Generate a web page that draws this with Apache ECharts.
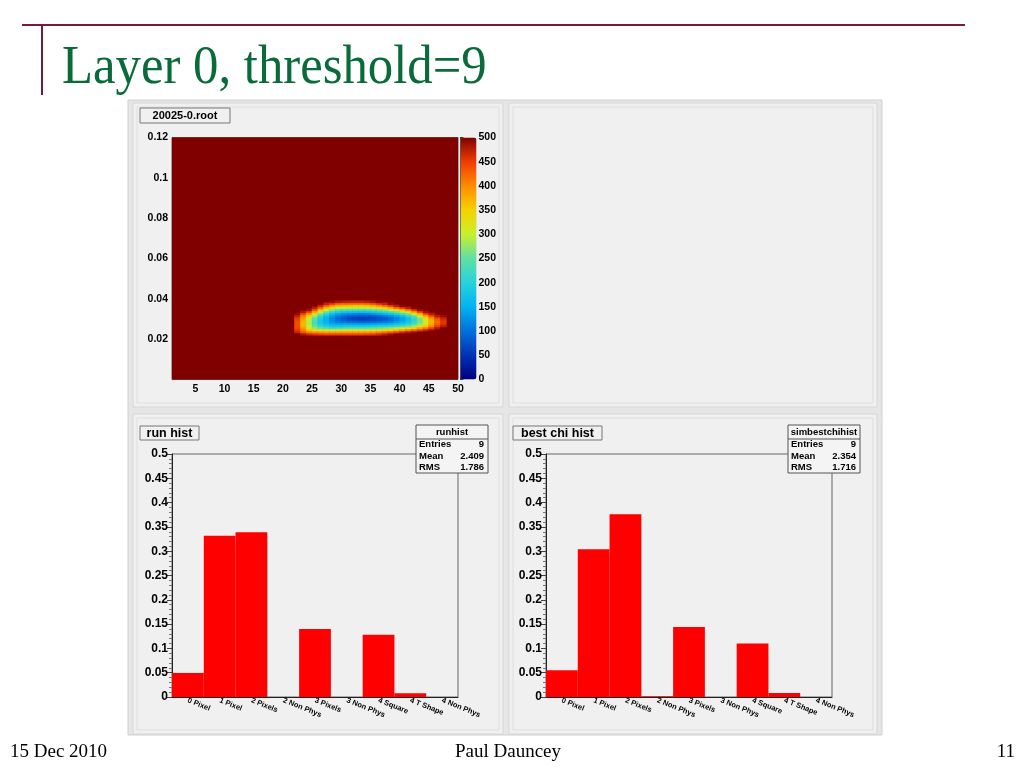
<!DOCTYPE html>
<html><head><meta charset="utf-8">
<script src="https://cdn.jsdelivr.net/npm/echarts@6/dist/echarts.min.js"></script>
<style>html,body{margin:0;padding:0;background:#fff}#c{width:1024px;height:768px}</style>
</head><body><div id="c"></div>
<script>
// ---------- data ----------
const mapXMin = 1, mapXMax = 50, mapYMin = 0, mapYMax = 0.12;
const mapSaturated = 500;
const mapXTickLabels = ['5','10','15','20','25','30','35','40','45','50'];
const mapYTickLabels = ['0.02','0.04','0.06','0.08','0.1','0.12'];
const zTickLabels = ['0','50','100','150','200','250','300','350','400','450','500'];
// blob region: columns x = 22..47 (bin width 1), rows y = 0.022..0.038 (bin height 0.001), bottom -> top
const blobX0 = 22, blobY0 = 0.022, binW = 1, binH = 0.001;
const blobColumns = [
  [500,470,455,445,440,440,440,445,455,470,490,500,500,500,500,500,500],
  [480,435,410,390,375,370,370,375,390,410,440,480,500,500,500,500,500],
  [465,410,360,320,300,290,290,295,315,345,390,440,485,500,500,500,500],
  [455,400,330,280,250,235,230,235,250,280,320,375,430,475,500,500,500],
  [450,395,315,255,215,190,180,180,190,215,255,305,360,420,465,495,500],
  [445,390,305,240,195,170,155,150,155,170,200,250,305,365,420,470,500],
  [445,390,300,230,180,150,130,120,120,135,165,210,265,325,385,445,490],
  [445,390,305,235,180,145,118,100,98,110,140,185,240,300,360,420,480],
  [445,390,310,240,185,145,110,88,82,92,125,172,232,295,355,415,475],
  [445,390,315,245,185,145,105,78,70,82,118,168,228,292,352,412,472],
  [445,390,315,245,185,142,102,72,64,76,114,165,225,290,350,410,470],
  [445,390,315,245,185,142,100,70,60,74,112,165,225,290,350,410,470],
  [448,392,318,248,188,144,102,72,62,76,116,168,230,295,355,415,475],
  [452,396,322,252,192,146,104,75,68,84,124,176,240,305,365,428,485],
  [462,406,330,260,198,150,108,80,75,92,136,190,254,320,385,450,495],
  [475,418,340,268,204,155,114,88,85,104,150,206,272,342,410,470,500],
  [488,432,352,278,212,162,124,98,96,118,168,228,296,370,440,490,500],
  [500,450,370,292,226,176,140,116,116,140,192,256,330,410,475,500,500],
  [500,465,388,306,240,190,158,138,140,166,218,286,364,445,495,500,500],
  [500,478,408,324,256,208,180,168,172,200,252,322,404,475,500,500,500],
  [500,490,430,348,282,238,212,204,214,246,302,376,452,495,500,500,500],
  [500,500,452,380,316,276,256,256,270,306,366,436,490,500,500,500,500],
  [500,500,472,414,356,322,306,308,330,376,436,484,500,500,500,500,500],
  [500,500,490,448,404,380,370,374,394,434,476,500,500,500,500,500,500],
  [500,500,500,480,450,430,420,424,444,476,500,500,500,500,500,500,500],
  [500,500,500,498,476,460,455,458,470,490,500,500,500,500,500,500,500]
];
const categories = ['0 Pixel','1 Pixel','2 Pixels','2 Non Phys','3 Pixels','3 Non Phys','4 Square','4 T Shape','4 Non Phys'];
const runHist = [0.0495, 0.332, 0.339, 0, 0.140, 0, 0.128, 0.0076, 0];
const bestChiHist = [0.055, 0.304, 0.376, 0.0014, 0.144, 0, 0.110, 0.008, 0];
const histYTickLabels = ['0','0.05','0.1','0.15','0.2','0.25','0.3','0.35','0.4','0.45','0.5'];
const runStats = [['Entries','9'],['Mean','2.409'],['RMS','1.786']];
const chiStats = [['Entries','9'],['Mean','2.354'],['RMS','1.716']];

// ---------- build ----------
const cells = [[mapXMin, mapXMax, mapYMin, mapYMax, mapSaturated]];
blobColumns.forEach((col, i) => col.forEach((v, j) => {
  if (v < mapSaturated) cells.push([blobX0 + i*binW, blobX0 + (i+1)*binW,
    +(blobY0 + j*binH).toFixed(4), +(blobY0 + (j+1)*binH).toFixed(4), v]);
}));

const SANS = 'Liberation Sans, Arial, sans-serif';
const SERIF = 'Liberation Serif, Times New Roman, serif';
const axisFont = {fontFamily: SANS, fontWeight: 'bold', color: '#000'};

function statBox(x, y, title, rows) {
  const w = 72, h = 48;
  const els = [
    {type:'rect', shape:{x:x, y:y, width:w, height:h}, style:{fill:'#f4f4f4', stroke:'#555', lineWidth:1}, z:100},
    {type:'line', shape:{x1:x, y1:y+14, x2:x+w, y2:y+14}, style:{stroke:'#555', lineWidth:1}, z:101},
    {type:'text', x:x+w/2, y:y+7, style:{text:title, fill:'#000', font:'bold 9.5px '+SANS, align:'center', verticalAlign:'middle'}, z:101}
  ];
  rows.forEach((r, i) => {
    const yy = y + 19.5 + i*11.5;
    els.push({type:'text', x:x+3, y:yy, style:{text:r[0], fill:'#000', font:'bold 9.5px '+SANS, align:'left', verticalAlign:'middle'}, z:101});
    els.push({type:'text', x:x+w-4, y:yy, style:{text:r[1], fill:'#000', font:'bold 9.5px '+SANS, align:'right', verticalAlign:'middle'}, z:101});
  });
  return els;
}
function titleBox(x, y, w, h, text, fs) {
  return [
    {type:'rect', shape:{x:x, y:y, width:w, height:h}, style:{fill:'#f0f0f0', stroke:'#777', lineWidth:1}, z:100},
    {type:'text', x:x+w/2, y:y+h/2+0.5, style:{text:text, fill:'#000', font:'bold '+fs+'px '+SANS, align:'center', verticalAlign:'middle'}, z:101}
  ];
}
function pad(x, y, w, h) {
  return [
    {type:'rect', shape:{x:x, y:y, width:w, height:h}, style:{fill:'#f0f0f0', stroke:'#d6d6d6', lineWidth:1}, z:-5},
    {type:'rect', shape:{x:x+4, y:y+4, width:w-8, height:h-8}, style:{fill:'none', stroke:'#dedede', lineWidth:1}, z:-4}
  ];
}

const graphics = [].concat(
  [{type:'rect', shape:{x:128, y:100, width:754, height:635}, style:{fill:'#e6e6e6', stroke:'#d0d0d0', lineWidth:1}, z:-10}],
  pad(133, 103, 370, 304), pad(509, 103, 368, 304), pad(133, 414, 370, 320), pad(509, 414, 368, 320),
  titleBox(140, 108, 90, 15, '20025-0.root', 11),
  titleBox(140, 426, 59, 14, 'run hist', 12.5),
  titleBox(513, 426, 89, 14, 'best chi hist', 12.5),
  statBox(416, 425, 'runhist', runStats),
  statBox(788, 425, 'simbestchihist', chiStats),
  [
    {type:'line', shape:{x1:22, y1:25, x2:965, y2:25}, style:{stroke:'#7a1a3a', lineWidth:2}, z:10},
    {type:'line', shape:{x1:42, y1:25, x2:42, y2:95}, style:{stroke:'#7a1a3a', lineWidth:2}, z:10},
    {type:'text', x:62, y:69, scaleX:0.94, originX:0, originY:0, style:{text:'Layer 0, threshold=9', fill:'#0a6b3a', font:'54px '+SERIF, align:'left', verticalAlign:'middle'}, z:10},
    {type:'text', x:10, y:752, style:{text:'15 Dec 2010', fill:'#000', font:'19px '+SERIF, align:'left', verticalAlign:'middle'}, z:10},
    {type:'text', x:508, y:752, style:{text:'Paul Dauncey', fill:'#000', font:'19px '+SERIF, align:'center', verticalAlign:'middle'}, z:10},
    {type:'text', x:1015, y:752, style:{text:'11', fill:'#000', font:'19px '+SERIF, align:'right', verticalAlign:'middle'}, z:10}
  ]
);

const histGrid = (left) => ({left:left, top:454, width:286, height:243, show:true, borderColor:'#666', borderWidth:1, backgroundColor:'transparent', outerBoundsMode:'none'});
const histX = (gi) => ({
  type:'category', gridIndex:gi, data:categories, boundaryGap:true,
  axisLine:{show:true, lineStyle:{color:'#222', width:1}},
  axisTick:{show:false},
  axisLabel:Object.assign({interval:0, rotate:-22, fontSize:7.5, margin:3}, axisFont),
  splitLine:{show:false}
});
const histY = (gi) => ({
  type:'value', gridIndex:gi, min:0, max:0.5, interval:0.05,
  axisLine:{show:true, lineStyle:{color:'#222', width:1}},
  axisTick:{show:true, inside:false, length:5, lineStyle:{color:'#444'}},
  minorTick:{show:true, splitNumber:5, length:3, lineStyle:{color:'#777'}},
  axisLabel:Object.assign({fontSize:12, margin:4, formatter:(v)=>histYTickLabels[Math.round(v/0.05)]}, axisFont),
  splitLine:{show:false}
});

const option = {
  animation:false,
  backgroundColor:'#ffffff',
  graphic:graphics,
  grid:[
    {left:172, top:137.5, width:286, height:242, show:true, borderColor:'#555', borderWidth:1, backgroundColor:'transparent', outerBoundsMode:'none'},
    histGrid(172),
    histGrid(546),
    {left:460.5, top:137.5, width:16, height:242, show:false, outerBoundsMode:'none'}
  ],
  xAxis:[
    {type:'value', gridIndex:0, min:mapXMin, max:mapXMax,
     axisLine:{show:false}, axisTick:{show:false}, splitLine:{show:false},
     axisLabel:Object.assign({fontSize:10.5, margin:4, customValues:mapXTickLabels.map(Number), showMinLabel:true, showMaxLabel:true}, axisFont)},
    histX(1), histX(2),
    {type:'value', gridIndex:3, min:0, max:1, show:false}
  ],
  yAxis:[
    {type:'value', gridIndex:0, min:mapYMin, max:mapYMax,
     axisLine:{show:false}, axisTick:{show:false}, splitLine:{show:false},
     axisLabel:Object.assign({fontSize:10.5, margin:4, customValues:mapYTickLabels.map(Number),
       formatter:(v)=>mapYTickLabels[mapYTickLabels.map(Number).findIndex(t=>Math.abs(t-v)<1e-9)] || ''}, axisFont)},
    histY(1), histY(2),
    {type:'value', gridIndex:3, min:0, max:500, interval:50, position:'right',
     axisLine:{show:true, lineStyle:{color:'#333'}},
     axisTick:{show:true, inside:false, length:3, lineStyle:{color:'#333'}},
     splitLine:{show:false},
     axisLabel:Object.assign({fontSize:10.5, margin:2, formatter:(v)=>zTickLabels[Math.round(v/50)]}, axisFont)}
  ],
  visualMap:{
    type:'continuous', min:0, max:mapSaturated, dimension:4, seriesIndex:0,
    calculable:false, realtime:false, hoverLink:false,
    left:460.5, top:137.5, itemWidth:16, itemHeight:242, padding:0,
    text:null, showLabel:false,
    inRange:{color:['#00007f','#0032b4','#0070dc','#00b4f0','#28d2dc','#5fe0a5','#c8f02d','#f5d200','#ff8c00','#f03c00','#800000']}
  },
  series:[
    {type:'custom', xAxisIndex:0, yAxisIndex:0, data:cells, encode:{x:[0,1], y:[2,3]}, clip:true,
     renderItem:(params, api) => {
       const p0 = api.coord([api.value(0), api.value(3)]);
       const p1 = api.coord([api.value(1), api.value(2)]);
       const c = api.visual('color');
       return {type:'rect', shape:{x:p0[0], y:p0[1], width:p1[0]-p0[0], height:p1[1]-p0[1]},
         style:{fill:c, stroke:c, lineWidth:0.6}};
     }},
    {type:'bar', xAxisIndex:1, yAxisIndex:1, data:runHist, barCategoryGap:'0%', barGap:'0%',
     itemStyle:{color:'#ff0000'}, z:2},
    {type:'bar', xAxisIndex:2, yAxisIndex:2, data:bestChiHist, barCategoryGap:'0%', barGap:'0%',
     itemStyle:{color:'#ff0000'}, z:2}
  ]
};
const chart = echarts.init(document.getElementById('c'), null, {renderer:'canvas'});
chart.setOption(option);
</script></body></html>
